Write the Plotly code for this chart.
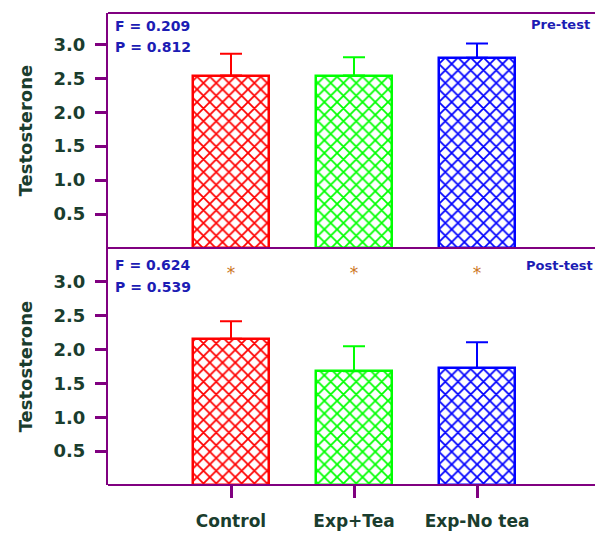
import plotly.graph_objects as go
from plotly.subplots import make_subplots

categories = ["Control", "Exp+Tea", "Exp-No tea"]
pre_means = [2.54, 2.54, 2.80]
pre_err = [0.32, 0.27, 0.21]
post_means = [2.16, 1.68, 1.73]
post_err = [0.26, 0.37, 0.38]
star_y = [3.1, 3.1, 3.1]
colors = ["#ff0000", "#00ff00", "#0000ff"]
y_ticks = [0.5, 1.0, 1.5, 2.0, 2.5, 3.0]
pre_stats = ["F = 0.209", "P = 0.812"]
post_stats = ["F = 0.624", "P = 0.539"]

FONT = "DejaVu Sans"
PURPLE = "#800080"
LABEL = "#1a3d2e"
BLUE_TXT = "#1c1cb4"

W = 620  # wider than the window so the open right side runs off the edge

fig = make_subplots(rows=2, cols=1, shared_xaxes=True, vertical_spacing=0)

xs = list(range(len(categories)))
for row, means, errs in [(1, pre_means, pre_err), (2, post_means, post_err)]:
    for i in xs:
        fig.add_trace(go.Bar(
            x=[i], y=[means[i]], width=0.61,
            marker=dict(color=colors[i], line=dict(color=colors[i], width=2.5),
                        pattern=dict(shape="x", fgcolor=colors[i], bgcolor="white",
                                     size=9, solidity=0.35, fillmode="replace")),
            error_y=dict(type="data", symmetric=False, array=[errs[i]], arrayminus=[0],
                         color=colors[i], thickness=2, width=11),
            hoverinfo="skip", showlegend=False), row=row, col=1)

fig.add_trace(go.Scatter(x=xs, y=star_y, mode="text", text=["*"] * 3,
                         textfont=dict(color="#cc7722", size=17, family=FONT),
                         hoverinfo="skip", showlegend=False), row=2, col=1)

axis_common = dict(showgrid=False, zeroline=False, automargin=False)
fig.update_xaxes(range=[-1, -1 + (W - 108) / 123], tickvals=xs, ticktext=categories,
                 showline=False, **axis_common)
fig.update_xaxes(row=1, col=1, ticks="", showticklabels=False)
fig.update_xaxes(row=2, col=1, ticks="outside", ticklen=12, tickwidth=2.5, tickcolor=PURPLE,
                 ticklabelstandoff=9,
                 tickfont=dict(family=FONT, size=17, color=LABEL, weight="bold"))
fig.update_yaxes(tickvals=y_ticks, tickformat=".1f", ticks="outside", ticklen=11, tickwidth=2.5,
                 tickcolor=PURPLE, ticklabelstandoff=6, showline=True, linecolor=PURPLE,
                 linewidth=2,
                 tickfont=dict(family=FONT, size=18, color=LABEL, weight="bold"),
                 title=dict(text="Testosterone", standoff=16,
                            font=dict(family=FONT, size=18, color=LABEL, weight="bold")),
                 **axis_common)
fig.update_yaxes(row=1, col=1, range=[0, 3.46], domain=[0.502, 1])
fig.update_yaxes(row=2, col=1, range=[0, 3.5], domain=[0, 0.502])

# horizontal frame lines (top, middle, bottom), open to the right edge
for yv in [535 - 13, 535 - 248, 535 - 485]:
    fig.add_shape(type="line", xref="paper", yref="paper", x0=0, x1=1.3,
                  y0=(yv - 50) / 472, y1=(yv - 50) / 472,
                  line=dict(color=PURPLE, width=2), layer="above")

def ann(text, x, y, yref, xanchor, size):
    fig.add_annotation(text=text, x=x, y=y, xref="paper", yref=yref, xanchor=xanchor,
                       yanchor="middle", showarrow=False,
                       font=dict(family=FONT, size=size, color=BLUE_TXT, weight="bold"))

pw = W - 108
ann(pre_stats[0], 5 / pw, 0.945, "y domain", "left", 14)
ann(pre_stats[1], 5 / pw, 0.855, "y domain", "left", 14)
ann("Pre-test", (592 - 108) / pw, 0.95, "y domain", "right", 13)
ann(post_stats[0], 5 / pw, 0.93, "y2 domain", "left", 14)
ann(post_stats[1], 5 / pw, 0.835, "y2 domain", "left", 14)
ann("Post-test", (595 - 108) / pw, 0.928, "y2 domain", "right", 13)

fig.update_layout(width=W, height=535, margin=dict(l=108, r=0, t=13, b=50),
                  plot_bgcolor="white", paper_bgcolor="white", bargap=0, hovermode=False)

fig.write_html("out.html", config={"displayModeBar": False},
               post_script="document.body.style.margin='0';document.body.style.overflow='hidden';")
